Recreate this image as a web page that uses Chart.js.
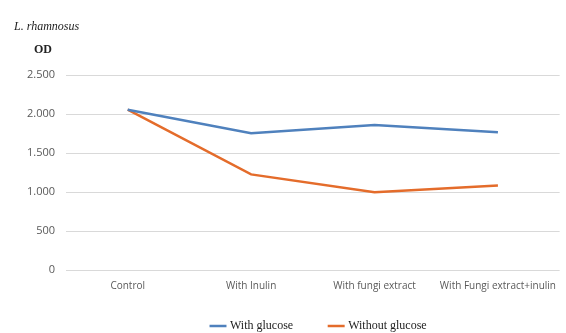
<!DOCTYPE html>
<html>
<head>
<meta charset="utf-8">
<script src="https://cdn.jsdelivr.net/npm/chart.js@4"></script>
<style>
  html, body { margin: 0; padding: 0; background: #fff; }
  #wrap { width: 566px; height: 333px; }
</style>
</head>
<body>
<div id="wrap"><canvas id="odChart"></canvas></div>
<script>
// data
const categories = ['Control', 'With Inulin', 'With fungi extract', 'With Fungi extract+inulin'];
const withGlucose = [2055, 1752, 1858, 1765];
const withoutGlucose = [2055, 1226, 998, 1084];
const yTicks = [0, 500, 1000, 1500, 2000, 2500];

// thousands with a dot, like the original
function fmt(v) {
  return v >= 1000 ? Math.floor(v / 1000) + '.' + String(v % 1000).padStart(3, '0') : String(v);
}

const headerText = {
  id: 'headerText',
  afterLayout(chart) {
    // put the legend box where the original has it
    const lg = chart.legend;
    lg.left = 175;
    lg.right = 566;
    lg.top = 283;
    lg.bottom = 333;
  },
  afterDraw(chart) {
    const ctx = chart.ctx;
    ctx.save();
    ctx.fillStyle = '#222';
    ctx.textBaseline = 'middle';
    ctx.font = 'italic 12px "Liberation Serif"';
    ctx.fillText('L. rhamnosus', 14, 27);
    ctx.font = 'bold 12px "Liberation Serif"';
    ctx.fillText('OD', 34, 50);
    ctx.restore();
  }
};

const ctx = document.getElementById('odChart').getContext('2d');
new Chart(ctx, {
  type: 'line',
  data: {
    labels: categories,
    datasets: [{
      label: 'With glucose',
      data: withGlucose,
      borderColor: '#4F81BD',
      backgroundColor: '#4F81BD',
      borderWidth: 2.5,
      pointRadius: 0,
      tension: 0,
      fill: false
    }, {
      label: 'Without glucose',
      data: withoutGlucose,
      borderColor: '#E46C2B',
      backgroundColor: '#E46C2B',
      borderWidth: 2.5,
      pointRadius: 0,
      tension: 0,
      fill: false
    }]
  },
  options: {
    responsive: true,
    maintainAspectRatio: false,
    animation: false,
    layout: { padding: { top: 75, left: 8, right: 0, bottom: -28 } },
    scales: {
      x: {
        offset: true,
        grid: { display: false, drawTicks: false },
        border: { display: false },
        ticks: { color: '#595959', font: { family: 'Open Sans', size: 10 }, padding: 10, maxRotation: 0, autoSkip: false }
      },
      y: {
        min: 0,
        max: 2500,
        afterBuildTicks(scale) { scale.ticks = yTicks.map(v => ({ value: v })); },
        afterFit(scale) { scale.width = 58; },
        grid: { color: '#d9d9d9', lineWidth: 1, drawTicks: false },
        border: { display: false },
        ticks: {
          color: '#595959',
          font: { family: 'Open Sans', size: 11 },
          padding: 11,
          callback: v => fmt(v)
        }
      }
    },
    plugins: {
      legend: {
        position: 'bottom',
        align: 'start',
        labels: {
          usePointStyle: true,
          pointStyle: 'line',
          boxWidth: 27,
          color: '#222',
          font: { family: 'Liberation Serif', size: 12 },
          padding: 37
        }
      },
      tooltip: { enabled: false }
    }
  },
  plugins: [headerText]
});
</script>
</body>
</html>
